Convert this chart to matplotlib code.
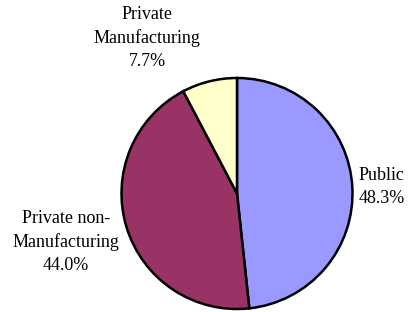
import matplotlib
matplotlib.use("Agg")
from matplotlib import pyplot as plt

# pie data
labels = ["Public", "Private non-\nManufacturing", "Private\nManufacturing"]
shares = [48.3, 44.0, 7.7]
colors = ["#9999FF", "#993366", "#FFFFCC"]

plt.rcParams["font.family"] = ["Liberation Serif", "DejaVu Serif"]

W, H = 412, 312
fig = plt.figure(figsize=(W / 100, H / 100), dpi=100)
ax = fig.add_axes([0, 0, 1, 1])

cx, cy, r = 237, H - 193.5, 115.5
ax.pie(shares, colors=colors, startangle=90, counterclock=False,
       center=(cx, cy), radius=r, frame=True,
       wedgeprops=dict(edgecolor="black", linewidth=1.8))
ax.set_xlim(0, W)
ax.set_ylim(0, H)
ax.set_aspect("equal")
ax.axis("off")

# label positions (pixels from top-left) and alignment
pos = [(359, 187, "left"), (66, 242, "center"), (147, 38, "center")]
for lab, val, (x, y, ha) in zip(labels, shares, pos):
    ax.text(x, H - y, f"{lab}\n{val:.1f}%", ha=ha, va="center",
            fontsize=13, linespacing=1.45)

fig.savefig("out.png", dpi=100)
